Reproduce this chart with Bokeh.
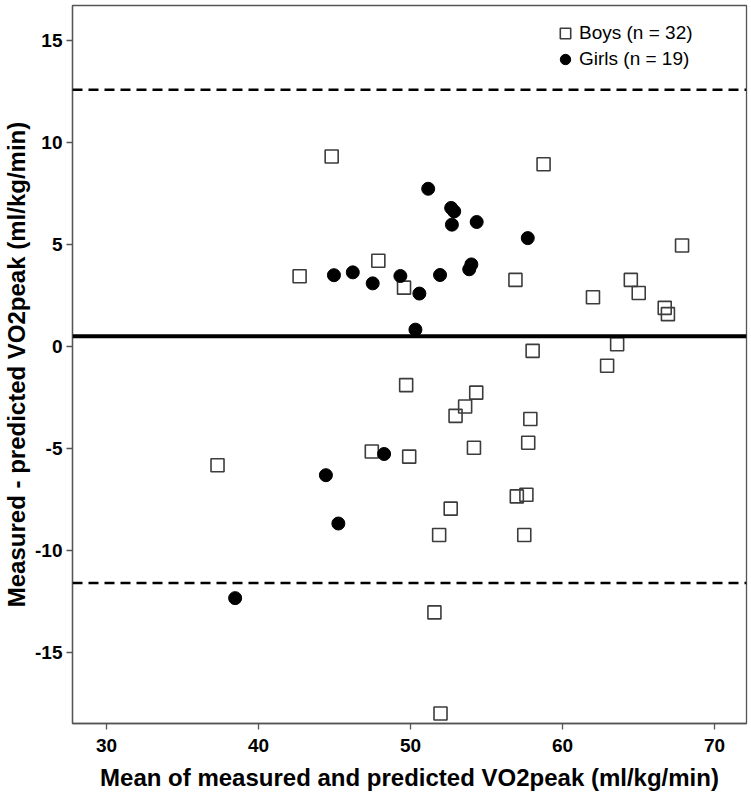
from bokeh.plotting import figure
from bokeh.models import Span, Legend, LegendItem, Range1d, FixedTicker, PrintfTickFormatter
from bokeh.embed import file_html
from bokeh.resources import INLINE

# Data
boys_x = [44.81, 58.75, 67.86, 42.70, 47.88, 49.57, 56.90, 62.00, 64.49, 65.01, 66.72, 66.93,
          63.59, 58.03, 62.93, 49.71, 54.32, 53.59, 52.96, 57.88, 54.17, 57.74, 47.45, 49.91,
          37.30, 56.99, 57.62, 52.64, 51.88, 57.48, 51.57, 51.97]
boys_y = [9.32, 8.94, 4.96, 3.45, 4.21, 2.89, 3.27, 2.42, 3.27, 2.63, 1.90, 1.59,
          0.11, -0.21, -0.94, -1.89, -2.26, -2.94, -3.40, -3.55, -4.96, -4.72, -5.15, -5.40,
          -5.82, -7.35, -7.27, -7.95, -9.24, -9.24, -13.04, -18.00]
girls_x = [51.16, 52.67, 52.87, 52.72, 54.35, 57.71, 44.96, 46.20, 47.51, 49.33, 50.58, 51.94,
           53.86, 54.00, 50.32, 48.26, 44.43, 45.25, 38.46]
girls_y = [7.74, 6.80, 6.63, 5.98, 6.11, 5.32, 3.50, 3.64, 3.10, 3.46, 2.60, 3.51,
           3.79, 4.03, 0.83, -5.27, -6.31, -8.68, -12.34]

mean_diff = 0.5
upper_loa = 12.6
lower_loa = -11.6

x_ticks = [30, 40, 50, 60, 70]
y_ticks = [-15, -10, -5, 0, 5, 10, 15]

boys_label = "Boys (n = 32)"
girls_label = "Girls (n = 19)"
x_title = "Mean of measured and predicted VO2peak (ml/kg/min)"
y_title = "Measured - predicted VO2peak (ml/kg/min)"

FONT = "Liberation Sans"
AX = "#555555"

p = figure(width=748, height=793, output_backend="svg", toolbar_location=None,
           x_range=Range1d(27.76, 72.1), y_range=Range1d(-18.49, 16.73),
           min_border_left=72, min_border_right=2, min_border_top=5, min_border_bottom=66)
p.grid.visible = False
p.outline_line_color = AX
p.outline_line_width = 1.3
p.background_fill_color = "white"
p.border_fill_color = "white"

for ax in (p.xaxis[0], p.yaxis[0]):
    ax.axis_line_color = AX
    ax.axis_line_width = 1.3
    ax.major_tick_line_color = AX
    ax.major_tick_line_width = 1.3
    ax.major_tick_out = 6
    ax.major_tick_in = 0
    ax.minor_tick_line_color = None
    ax.major_label_text_font = FONT
    ax.major_label_text_font_style = "bold"
    ax.major_label_text_font_size = "19px"
    ax.major_label_text_color = "black"
    ax.axis_label_text_font = FONT
    ax.axis_label_text_font_style = "bold"
    ax.axis_label_text_font_size = "24px"
    ax.axis_label_text_color = "black"

p.xaxis.ticker = FixedTicker(ticks=x_ticks)
p.yaxis.ticker = FixedTicker(ticks=y_ticks)
p.xaxis.formatter = PrintfTickFormatter(format="%d")
p.yaxis.formatter = PrintfTickFormatter(format="%d")
p.xaxis.axis_label = x_title
p.yaxis.axis_label = y_title
p.xaxis.major_label_standoff = 9
p.xaxis.axis_label_standoff = 9
p.yaxis.major_label_standoff = 4
p.yaxis.axis_label_standoff = 2

p.add_layout(Span(location=upper_loa, dimension="width", line_color="black",
                  line_width=2.5, line_dash="10 6"))
p.add_layout(Span(location=lower_loa, dimension="width", line_color="black",
                  line_width=2.5, line_dash="10 6"))
p.add_layout(Span(location=mean_diff, dimension="width", line_color="black",
                  line_width=4))

rb = p.scatter(boys_x, boys_y, marker="square", size=13, fill_color=None,
               line_color="#3c3c3c", line_width=1.6)
rg = p.scatter(girls_x, girls_y, marker="circle", size=13, fill_color="black",
               line_color="black", line_width=1)

legend = Legend(items=[LegendItem(label=boys_label, renderers=[rb]),
                       LegendItem(label=girls_label, renderers=[rg])],
                location=(480, 651), padding=0, margin=0, spacing=0,
                glyph_width=26, glyph_height=26, label_height=26, label_standoff=1,
                border_line_alpha=0, background_fill_alpha=0,
                label_text_font=FONT, label_text_font_size="19px", label_text_color="black")
p.add_layout(legend)

open("out.html", "w").write(file_html(p, INLINE))
